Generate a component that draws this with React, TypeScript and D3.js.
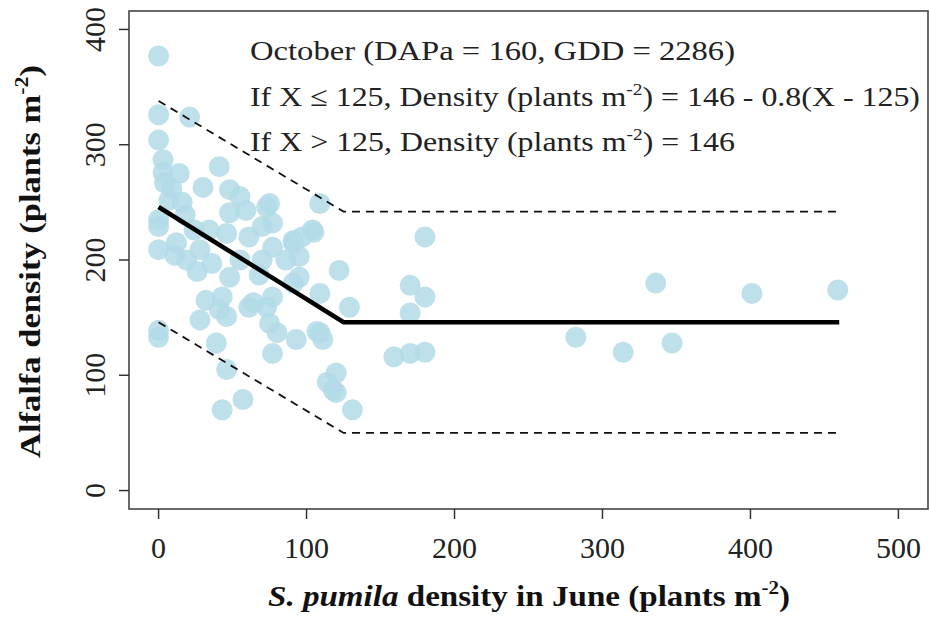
import { useEffect, useRef } from 'react';
import * as d3 from 'd3';

// S. pumila density in June (x) vs alfalfa density in October (y)
const pumilaJune: number[] = [
  0, 0, 21, 0, 3, 3, 4, 14, 41, 30, 48, 55, 75, 109, 104, 91, 70, 77,
  0, 0, 12, 19, 26, 28, 36, 46, 48, 43, 32, 28, 41, 46, 61, 64, 77, 75,
  80, 93, 109, 111, 77, 91, 77, 122, 109, 129, 0, 39, 46, 43, 57, 114,
  120, 120, 131, 61, 73, 91, 86, 95, 70, 48, 59, 73, 105, 97, 107, 180,
  170, 180, 170, 159, 170, 180, 118, 282, 314, 347, 336, 401, 459, 7, 18,
  34, 55, 24, 11, 68, 95, 0, 0, 9, 16,
];
const alfalfaOct: number[] = [
  377, 326, 324, 304, 287, 276, 267, 275, 281, 263, 261, 255, 249, 249, 226, 217, 229, 211,
  235, 209, 215, 200, 190, 209, 197, 223, 185, 168, 165, 148, 157, 151, 220, 163, 168, 145,
  137, 131, 137, 131, 119, 215, 232, 191, 171, 159, 133, 128, 105, 70, 79, 94,
  102, 85, 70, 159, 159, 180, 200, 185, 200, 241, 243, 246, 224, 220, 138, 220,
  178, 168, 154, 116, 119, 120, 87, 133, 120, 128, 180, 171, 174, 252, 239,
  226, 200, 226, 204, 187, 203, 229, 139, 262, 250,
];

// segmented regression fit and its bounds
const fitX: number[] = [0, 125, 460];
const fitMid: number[] = [246, 146, 146];
const fitUpper: number[] = [338, 242, 242];
const fitLower: number[] = [146, 50, 50];

const xTicks: number[] = [0, 100, 200, 300, 400, 500];
const yTicks: number[] = [0, 100, 200, 300, 400];

const serif = "'Liberation Serif', 'Times New Roman', serif";

const App = () => {
  const svgRef = useRef<SVGSVGElement>(null);

  useEffect(() => {
    if (!svgRef.current) return;
    const svg = d3.select(svgRef.current);
    svg.selectAll('*').remove();

    const W = 929;
    const H = 619;
    svg.attr('width', W).attr('height', H);
    svg.append('rect').attr('width', W).attr('height', H).attr('fill', 'white');

    const x = d3.scaleLinear().domain([-20, 520]).range([129, 928]);
    const y = d3.scaleLinear().domain([-16, 416]).range([509, 11]);

    // points
    svg
      .append('g')
      .selectAll('circle')
      .data(d3.range(pumilaJune.length))
      .enter()
      .append('circle')
      .attr('cx', (i) => x(pumilaJune[i]))
      .attr('cy', (i) => y(alfalfaOct[i]))
      .attr('r', 10.5)
      .attr('fill', '#b3dbe7')
      .attr('opacity', 0.85);

    // fit lines
    const line = (vals: number[]) =>
      d3
        .line<number>()
        .x((_, i) => x(fitX[i]))
        .y((d) => y(d))(vals);

    [fitUpper, fitLower].forEach((vals) => {
      svg
        .append('path')
        .attr('d', line(vals))
        .attr('fill', 'none')
        .attr('stroke', '#111')
        .attr('stroke-width', 1.8)
        .attr('stroke-dasharray', '8,6');
    });
    svg
      .append('path')
      .attr('d', line(fitMid))
      .attr('fill', 'none')
      .attr('stroke', '#000')
      .attr('stroke-width', 4.5);

    // box
    svg
      .append('rect')
      .attr('x', x(-20))
      .attr('y', y(416))
      .attr('width', x(520) - x(-20))
      .attr('height', y(-16) - y(416))
      .attr('fill', 'none')
      .attr('stroke', '#444')
      .attr('stroke-width', 1.6);

    // x axis
    const xAxis = svg.append('g');
    xTicks.forEach((t) => {
      xAxis
        .append('line')
        .attr('x1', x(t))
        .attr('x2', x(t))
        .attr('y1', y(-16))
        .attr('y2', y(-16) + 10)
        .attr('stroke', '#333')
        .attr('stroke-width', 1.5);
      xAxis
        .append('text')
        .attr('x', x(t))
        .attr('y', 558)
        .attr('text-anchor', 'middle')
        .attr('font-family', serif)
        .attr('font-size', 30)
        .attr('fill', '#222')
        .text(t);
    });

    // y axis
    const yAxis = svg.append('g');
    yTicks.forEach((t) => {
      yAxis
        .append('line')
        .attr('x1', x(-20))
        .attr('x2', x(-20) - 10)
        .attr('y1', y(t))
        .attr('y2', y(t))
        .attr('stroke', '#333')
        .attr('stroke-width', 1.5);
      yAxis
        .append('text')
        .attr('transform', `translate(105,${y(t)}) rotate(-90)`)
        .attr('text-anchor', 'middle')
        .attr('font-family', serif)
        .attr('font-size', 30)
        .attr('fill', '#222')
        .text(t);
    });

    // axis titles
    const xt = svg
      .append('text')
      .attr('x', 268)
      .attr('y', 606)
      .attr('textLength', 522)
      .attr('lengthAdjust', 'spacingAndGlyphs')
      .attr('font-family', serif)
      .attr('font-size', 30)
      .attr('font-weight', 'bold')
      .attr('fill', '#111');
    xt.append('tspan').attr('font-style', 'italic').text('S. pumila');
    xt.append('tspan').text(' density in June (plants m');
    xt.append('tspan').attr('font-size', 19).attr('dy', -12).text('-2');
    xt.append('tspan').attr('dy', 12).text(')');

    const yt = svg
      .append('text')
      .attr('transform', 'translate(40,458) rotate(-90)')
      .attr('textLength', 393)
      .attr('lengthAdjust', 'spacingAndGlyphs')
      .attr('font-family', serif)
      .attr('font-size', 30)
      .attr('font-weight', 'bold')
      .attr('fill', '#111');
    yt.append('tspan').text('Alfalfa density (plants m');
    yt.append('tspan').attr('font-size', 19).attr('dy', -12).text('-2');
    yt.append('tspan').attr('dy', 12).text(')');

    // annotation
    const ann = svg
      .append('g')
      .attr('font-family', serif)
      .attr('font-size', 28)
      .attr('fill', '#222');
    ann
      .append('text')
      .attr('x', 250)
      .attr('y', 60)
      .attr('textLength', 485)
      .attr('lengthAdjust', 'spacingAndGlyphs')
      .text('October (DAPa = 160, GDD = 2286)');
    const l2 = ann
      .append('text')
      .attr('x', 250)
      .attr('y', 106)
      .attr('textLength', 670)
      .attr('lengthAdjust', 'spacingAndGlyphs');
    l2.append('tspan').text('If X ≤ 125, Density (plants m');
    l2.append('tspan').attr('font-size', 17).attr('dy', -11).text('-2');
    l2.append('tspan').attr('dy', 11).text(') = 146 - 0.8(X - 125)');
    const l3 = ann
      .append('text')
      .attr('x', 250)
      .attr('y', 151)
      .attr('textLength', 485)
      .attr('lengthAdjust', 'spacingAndGlyphs');
    l3.append('tspan').text('If X > 125, Density (plants m');
    l3.append('tspan').attr('font-size', 17).attr('dy', -11).text('-2');
    l3.append('tspan').attr('dy', 11).text(') = 146');
  }, []);

  return (
    <svg
      ref={svgRef}
      style={{ position: 'absolute', left: 0, top: 0, display: 'block' }}
    ></svg>
  );
};

export default App;
